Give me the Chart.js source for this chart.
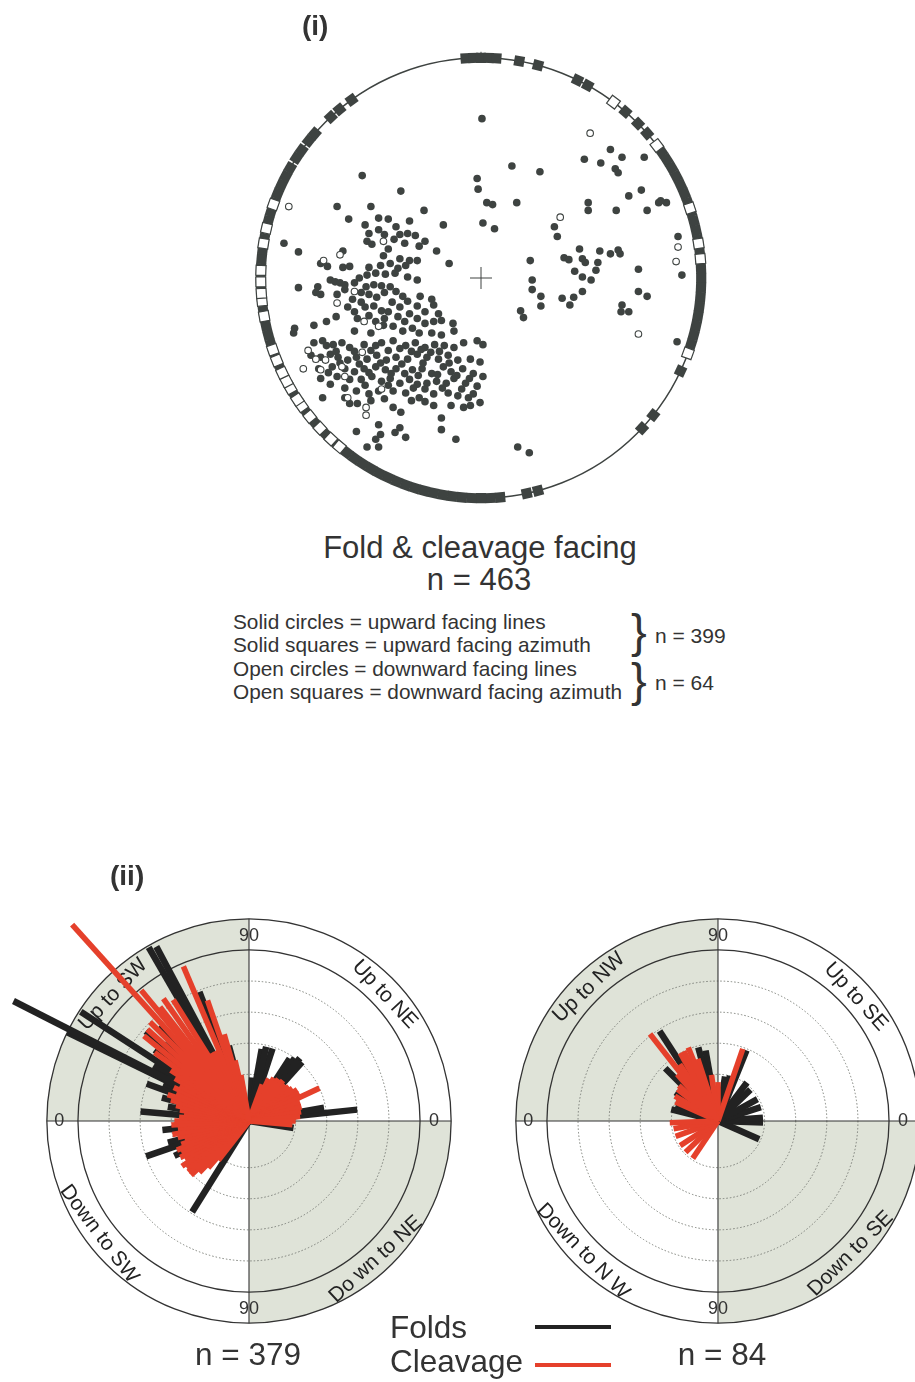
<!DOCTYPE html>
<html>
<head>
<meta charset="utf-8">
<script src="https://cdn.jsdelivr.net/npm/chart.js@4.4.1/dist/chart.umd.min.js"></script>
<style>
  body { margin: 0; background: #fff; }
  #page { position: relative; width: 915px; height: 1382px; overflow: hidden;
          font-family: Arial, "Liberation Sans", sans-serif; color: #333; }
  .t { position: absolute; white-space: nowrap; line-height: 1; }
  .c { transform: translateX(-50%); }
  canvas { position: absolute; }
  .key { position: absolute; height: 4px; width: 76px; left: 535px; }
</style>
</head>
<body>
<div id="page">
  <canvas id="net" width="480" height="480" style="left:241px; top:38px"></canvas>
  <canvas id="rose" width="915" height="460" style="left:0; top:890px"></canvas>

  <div class="t" style="left:302px; top:12px; font-size:28px; font-weight:bold">(i)</div>
  <div class="t c" style="left:480px; top:532px; font-size:31px">Fold &amp; cleavage facing</div>
  <div class="t c" style="left:479px; top:564px; font-size:31px">n = 463</div>

  <div class="t" style="left:233px; top:612px; font-size:20.8px">Solid circles = upward facing lines</div>
  <div class="t" style="left:233px; top:635px; font-size:20.8px">Solid squares = upward facing azimuth</div>
  <div class="t" style="left:233px; top:659px; font-size:20.8px">Open circles = downward facing lines</div>
  <div class="t" style="left:233px; top:682px; font-size:20.8px">Open squares = downward facing azimuth</div>
  <div class="t" style="left:631px; top:607px; font-size:47px">}</div>
  <div class="t" style="left:631px; top:656px; font-size:47px">}</div>
  <div class="t" style="left:655px; top:625px; font-size:21px">n = 399</div>
  <div class="t" style="left:655px; top:672px; font-size:21px">n = 64</div>

  <div class="t" style="left:110px; top:862px; font-size:28px; font-weight:bold">(ii)</div>
  <div class="t c" style="left:248px; top:1339px; font-size:31.5px">n = 379</div>
  <div class="t c" style="left:722px; top:1339px; font-size:31.5px">n = 84</div>
  <div class="t" style="left:390px; top:1312px; font-size:31.5px">Folds</div>
  <div class="t" style="left:390px; top:1346px; font-size:31.5px">Cleavage</div>
  <div class="key" style="top:1325px; background:#222"></div>
  <div class="key" style="top:1363px; background:#e5402b"></div>
</div>

<script>
// ---- (i) stereonet: projected positions, outer circle radius = 228 units ----
const NET_R = 228;

const solidLines = [
  [-123,106],[-83,90],[-4,103],[-3,92],[6,78],[-149,74],[-114,74],[-59,70],[-137,61],[-106,62],
  [-96,61],[-74,59],[-39,55],[2,57],[-88,53],[-116,46],[-106,50],[-84,45],[-76,46],[-68,44],
  [-58,38],[-204,36],[-118,38],[-113,35],[-79,36],[-64,33],[-189,27],[-143,28],[-101,23],[-84,20],
  [-74,18],[-66,18],[-46,28],[-166,15],[-159,12],[-143,11],[-136,12],[-116,11],[-104,13],[-94,15],
  [-86,10],[-78,13],[-33,15],[-118,3],[-109,5],[-99,4],[-89,5],[-76,1],[-66,-2],[-156,-2],
  [-151,-4],[-146,-5],[-141,-7],[-131,-5],[-119,-9],[-111,-7],[-103,-8],[-94,-9],[-169,-9],[-171,-15],
  [-166,-17],[-189,-10],[-149,-17],[-141,-12],[-124,-15],[-116,-17],[-81,-19],[-63,-19],[-51,-22],[-133,-22],
  [-124,-25],[-111,-29],[-103,-34],[-96,-35],[-84,-30],[-74,-37],[-66,-29],[-58,-35],[-49,-28],[-44,-37],
  [-131,-35],[-128,-42],[-116,-39],[-109,-45],[-101,-49],[-91,-50],[-79,-45],[-71,-52],[-58,-47],[-49,-45],
  [-41,-44],[-29,-47],[-28,-55],[-173,-49],[-193,-52],[-194,-57],[-131,-55],[-114,-57],[-81,-55],[-64,-57],
  [-51,-57],[-41,-59],
  [-100,-15],[-88,-14],[-108,-20],[-92,-25],[-76,-24],[-120,-30],[-138,-30],[-100,-42],[-86,-40],[-66,-42],
  [-126,0],[-96,30],[-90,40],[-120,55],[-100,45],[-150,-40],[-160,-45],
  [-173,-67],[-164,-65],[-153,-69],[-144,-67],[-136,-72],[-121,-69],[-109,-70],[-103,-67],[-91,-65],[-78,-70],
  [-68,-67],[-58,-72],[-48,-69],[-38,-70],[-28,-72],[-18,-67],[-4,-65],[2,-69],[-176,-80],[-166,-82],
  [-156,-79],[-148,-82],[-138,-85],[-129,-82],[-118,-84],[-108,-80],[-98,-85],[-88,-82],[-76,-84],[-66,-79],
  [-56,-82],[-44,-84],[-34,-80],[-24,-85],[-11,-84],[-1,-87],[-168,-94],[-154,-92],[-141,-94],[-131,-97],
  [-121,-94],[-109,-92],[-99,-95],[-88,-94],[-79,-99],[-71,-95],[-61,-94],[-51,-99],[-39,-92],[-31,-97],
  [-19,-94],[-8,-99],[2,-102],[-166,-104],[-149,-102],[-136,-105],[-124,-105],[-113,-102],[-103,-107],[-94,-104],
  [-84,-109],[-74,-105],[-66,-110],[-56,-109],[-46,-107],[-36,-109],[-28,-104],[-16,-109],[-4,-112],[-164,-124],
  [-141,-114],[-129,-117],[-116,-120],[-106,-117],[-91,-117],[-78,-119],[-64,-124],[-49,-120],[-34,-119],[-24,-122],
  [-13,-124],[-1,-129],[-141,-124],[-136,-130],[-114,-127],[-91,-134],[-83,-139],[-49,-132],[-31,-132],[-18,-134],
  [-11,-132],[-106,-152],[-104,-162],[-109,-167],[-89,-160],[-84,-155],[-78,-165],[-41,-145],[-41,-157],[-26,-167],
  [-118,-175],[-106,-175],[-129,-159],[38,-175],[50,-181],
  [-160,-70],[-150,-76],[-131,-76],[-114,-75],[-96,-75],[-84,-73],[-72,-76],[-62,-74],[-52,-77],[-43,-76],
  [-33,-88],[-60,-88],[-82,-89],[-104,-88],[-126,-89],[-146,-88],[-158,-98],[-116,-98],[-93,-99],[-65,-101],
  [-45,-100],[-25,-101],[-12,-104],[-58,-115],[-70,-114],[-96,-111],[-120,-111],[-40,-114],[-20,-115],[-8,-120],
  [-100,-125],[-72,-127],[-58,-128],[-128,-130],[-156,-110],
  [1,165],[32,116],[61,110],[107,123],[124,119],[134,133],[146,125],[139,113],[142,109],[166,91],
  [153,85],[172,70],[140,70],[111,78],[111,70],[37,78],[12,76],[184,78],[169,125],[192,78],
  [186,80],[14,51],[76,53],[79,43],[51,18],[53,-2],[53,-12],[62,-19],[62,-29],[41,-34],
  [44,-41],[84,-21],[92,-28],[96,-20],[105,-14],[97,7],[105,1],[114,-2],[102,30],[105,20],
  [108,16],[86,21],[91,19],[119,8],[121,16],[123,28],[134,25],[142,29],[144,25],[163,9],
  [163,-14],[172,-19],[146,-28],[145,-35],[153,-35],[204,43],[208,3],[203,-66]
];

const openLines = [
  [-101,38],[-146,24],[-163,18],[-131,-14],[-149,-26],[-121,-45],[-106,-50],[-199,74],[-179,-75],[-171,-84],
  [-161,-85],[-184,-94],[-166,-95],[-144,-92],[-141,-102],[-123,-77],[-119,-134],[-119,-142],[-138,-124],[-103,-115],
  [113,150],[82,63],[204,32],[202,17],[163,-58]
];

// facing azimuths, degrees clockwise from north, plotted on the primitive
const solidAzimuth = [
  356, 358, 0, 2, 4, 10, 15, 26, 29, 41, 45.5, 49,
  55, 57.5, 60, 62.5, 65, 67.5, 70, 72.5, 75, 77.5, 80, 82.5, 85, 87.5, 90,
  92.5, 95, 97.5, 100, 102.5, 105, 107.5, 115, 128.5, 133, 165, 168,
  175, 177.5, 180, 182.5, 185, 187.5, 190, 192.5, 195, 197.5, 200, 202.5, 205,
  207.5, 210, 212.5, 215, 217.5, 220, 222.5, 225, 227.5, 230, 232.5, 235, 237.5,
  240, 242.5, 245, 247.5, 250, 252.5, 255, 257.5, 260, 262.5, 265, 267.5, 270,
  272.5, 275, 277.5, 280, 282.5, 285, 287.5, 290, 292.5, 295, 297.5, 300,
  303, 305.5, 308.5, 311, 317, 320, 324
];
const openAzimuth = [
  37, 53, 71.5, 81, 85, 110, 220, 223, 227, 231, 234.5, 236.5, 240, 242, 244.5,
  248, 251, 260, 264, 266, 269, 272, 279, 283, 289.5
];

// ---- (ii) rose diagrams: [direction in degrees anticlockwise from right-hand 0, length] ----
const neswFolds = [
  [153,17.0],[154,13.0],[147,12.9],[150,7.1],[146,5.6],[160,7.0],[175,7.0],[170,5.3],[199,7.0],[195,5.4],
  [238,6.9],[118,12.7],[120,12.9],[111,8.9],[105,5.0],[138,7.4],[133,8.4],[139,8.8],[143,7.6],[157,6.0],
  [165,5.8],[186,5.6],[205,5.3],[77,4.9],[72,4.9],[80,4.7],[48,5.1],[51,5.2],[54,5.0],[57,4.8],
  [10,4.9],[6,7.0],[351,2.9],[86,2.8]
];
const neswCleavage = [
  [100,3.0],[103,4.0],[106,5.8],[109,8.2],[113,10.8],[116,5.0],[119,5.0],[122,9.2],[125,9.6],[128,9.3],
  [129.5,10.9],[132,17.0],[135,9.0],[138,8.8],[141,8.7],[144,7.5],[147,6.0],[150,5.5],[153,5.0],[156,5.3],
  [159,5.0],[162,5.5],[165,5.2],[168,4.8],[171,4.5],[174,4.2],[177,4.5],[180,4.8],[183,5.0],[186,4.6],
  [190,5.0],[193,4.7],[196,4.3],[199,4.6],[202,5.0],[205,4.8],[208,5.0],[211,4.8],[214,5.2],[217,5.0],
  [220,5.1],[223,5.1],[226,4.6],[229,4.0],[232,3.2],
  [0,3.0],[5,3.3],[10,3.4],[15,3.5],[20,3.5],[25,5.0],[29,3.7],[33,3.7],[37,3.5],[41,3.4],
  [45,3.3],[50,3.4],[55,3.3],[60,3.2],[65,3.0],[70,2.5],[355,2.8]
];
const nwseFolds = [
  [123,6.9],[135,4.8],[146,3.3],[166,3.1],[105,4.9],[100,4.6],[68,4.9],[81,2.9],[75,3.0],[53,3.1],
  [44,2.9],[29,2.9],[18,2.9],[4,2.9],[358,2.9],[336,2.9],[160,2.9]
];
const nwseCleavage = [
  [128,7.1],[119,5.0],[112,5.1],[116,5.0],[108,4.2],[124,4.4],[131,4.0],[138,3.4],[142,3.3],[150,3.2],
  [156,3.0],[182,3.1],[190,2.9],[200,2.9],[213,2.9],[224,2.9],[236,2.9],[71,4.9],[98,3.0],[90,2.5]
];

const ringDotted = [3, 5, 7, 9];
const ringSolid = [11, 13];
const axisTicks = [
  { text: '90', angle: 90, r: 11.9 }, { text: '90', angle: 270, r: 12.1 },
  { text: '0', angle: 180, r: 12.2 }, { text: '0', angle: 0, r: 11.9 }
];
const roses = [
  { x: 0, folds: neswFolds, cleavage: neswCleavage,
    labels: [['Up to SW', 137], ['Up to NE', 43], ['Down to SW', 217], ['Do wn to NE', 312.5]] },
  { x: 30.16, folds: nwseFolds, cleavage: nwseCleavage,
    labels: [['Up to NW', 134], ['Up to SE', 42], ['Down to N W', 224], ['Down to SE', 315]] }
];

const INK = '#3e4341';
const FOLD = '#222222';
const CLEAVAGE = '#e5402b';

// ---------------- stereonet ----------------
const rimPoint = az => ({ x: NET_R * Math.sin(az * Math.PI / 180), y: NET_R * Math.cos(az * Math.PI / 180) });

const netFrame = {
  id: 'netFrame',
  beforeDatasetsDraw(chart) {
    const { ctx, scales: { x, y } } = chart;
    const cx = x.getPixelForValue(0), cy = y.getPixelForValue(0);
    const r = x.getPixelForValue(NET_R) - cx;
    ctx.save();
    ctx.strokeStyle = INK;
    ctx.lineWidth = 1.5;
    ctx.beginPath();
    ctx.arc(cx, cy, r, 0, 2 * Math.PI);
    ctx.stroke();
    ctx.lineWidth = 1;
    ctx.beginPath();
    ctx.moveTo(cx - 11, cy); ctx.lineTo(cx + 11, cy);
    ctx.moveTo(cx, cy - 11); ctx.lineTo(cx, cy + 11);
    ctx.moveTo(cx, cy - r); ctx.lineTo(cx, cy - r - 6);
    ctx.stroke();
    ctx.restore();
  }
};

new Chart(document.getElementById('net'), {
  type: 'scatter',
  data: {
    datasets: [
      { label: 'Open squares', data: openAzimuth.map(rimPoint), pointStyle: 'rect', pointRadius: 7,
        pointRotation: c => openAzimuth[c.dataIndex], backgroundColor: '#fff', borderColor: INK, borderWidth: 1.2 },
      { label: 'Open circles', data: openLines.map(([x, y]) => ({ x, y })), pointRadius: 3.3,
        backgroundColor: '#fff', borderColor: INK, borderWidth: 1.1 },
      { label: 'Solid circles', data: solidLines.map(([x, y]) => ({ x, y })), pointRadius: 3.8,
        backgroundColor: INK, borderColor: INK, borderWidth: 0 },
      { label: 'Solid squares', data: solidAzimuth.map(rimPoint), pointStyle: 'rect', pointRadius: 7.2,
        pointRotation: c => solidAzimuth[c.dataIndex], backgroundColor: INK, borderColor: INK, borderWidth: 0 }
    ]
  },
  options: {
    responsive: false,
    animation: false,
    events: [],
    layout: { padding: 0 },
    scales: {
      x: { type: 'linear', min: -240, max: 240, display: false },
      y: { type: 'linear', min: -240, max: 240, display: false }
    },
    plugins: { legend: { display: false }, tooltip: { enabled: false } }
  },
  plugins: [netFrame]
});

// ---------------- rose diagrams ----------------
function barSets(bars, cx, colour, width) {
  return bars.map(([deg, len]) => {
    const a = deg * Math.PI / 180;
    return {
      data: [{ x: cx, y: 0 }, { x: cx + len * Math.cos(a), y: len * Math.sin(a) }],
      showLine: true, borderColor: colour, borderWidth: width, borderCapStyle: 'butt',
      pointRadius: 0, tension: 0, clip: false
    };
  });
}

const roseFrame = {
  id: 'roseFrame',
  beforeDatasetsDraw(chart) {
    const { ctx, scales: { x, y } } = chart;
    const unit = x.getPixelForValue(1) - x.getPixelForValue(0);
    const outer = ringSolid[ringSolid.length - 1] * unit;
    ctx.save();
    roses.forEach(rose => {
      const cx = x.getPixelForValue(rose.x), cy = y.getPixelForValue(0);
      // shaded quadrants
      ctx.fillStyle = '#dfe3d8';
      [[Math.PI, 1.5 * Math.PI], [0, 0.5 * Math.PI]].forEach(([a0, a1]) => {
        ctx.beginPath();
        ctx.moveTo(cx, cy);
        ctx.arc(cx, cy, outer, a0, a1);
        ctx.closePath();
        ctx.fill();
      });
      // dotted rings
      ctx.strokeStyle = '#7d807a';
      ctx.lineWidth = 1;
      ctx.setLineDash([1.5, 2]);
      ringDotted.forEach(v => {
        ctx.beginPath();
        ctx.arc(cx, cy, v * unit, 0, 2 * Math.PI);
        ctx.stroke();
      });
      ctx.setLineDash([]);
      // tick labels
      ctx.fillStyle = '#333';
      ctx.font = '18px Arial, "Liberation Sans", sans-serif';
      ctx.textAlign = 'center';
      ctx.textBaseline = 'middle';
      axisTicks.forEach(t => {
        const a = t.angle * Math.PI / 180;
        ctx.fillText(t.text, cx + t.r * unit * Math.cos(a), cy - t.r * unit * Math.sin(a));
      });
      // solid rings and axes
      ctx.strokeStyle = '#333';
      ctx.lineWidth = 1.3;
      ringSolid.forEach(v => {
        ctx.beginPath();
        ctx.arc(cx, cy, v * unit, 0, 2 * Math.PI);
        ctx.stroke();
      });
      ctx.lineWidth = 1.1;
      ctx.beginPath();
      ctx.moveTo(cx - outer, cy); ctx.lineTo(cx + outer, cy);
      ctx.moveTo(cx, cy - outer); ctx.lineTo(cx, cy + outer);
      ctx.stroke();
      // quadrant captions along the outer band
      ctx.fillStyle = '#222';
      ctx.font = '21px Arial, "Liberation Sans", sans-serif';
      rose.labels.forEach(([text, deg]) => {
        const a = deg * Math.PI / 180;
        const r = 12 * unit;
        ctx.save();
        ctx.translate(cx + r * Math.cos(a), cy - r * Math.sin(a));
        ctx.rotate(deg < 180 ? Math.PI / 2 - a : 1.5 * Math.PI - a);
        ctx.fillText(text, 0, 1);
        ctx.restore();
      });
    });
    ctx.restore();
  }
};

const roseSets = [];
roses.forEach(rose => roseSets.push(...barSets(rose.cleavage, rose.x, CLEAVAGE, 5.6)));
roses.forEach(rose => roseSets.push(...barSets(rose.folds, rose.x, FOLD, 6.5)));

new Chart(document.getElementById('rose'), {
  type: 'scatter',
  data: { datasets: roseSets },
  options: {
    responsive: false,
    animation: false,
    events: [],
    layout: { padding: 0 },
    scales: {
      x: { type: 'linear', min: -16.013, max: 42.83, display: false },
      y: { type: 'linear', min: -14.727, max: 14.855, display: false }
    },
    plugins: { legend: { display: false }, tooltip: { enabled: false } }
  },
  plugins: [roseFrame]
});
</script>
</body>
</html>
